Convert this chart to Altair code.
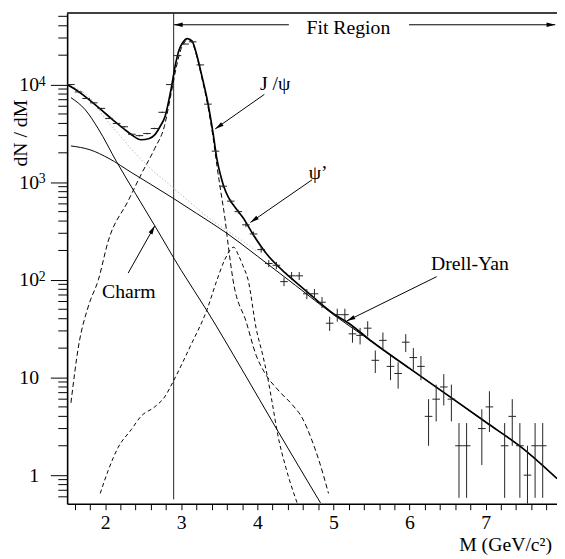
import math
import altair as alt
import pandas as pd

# ---------------- data ----------------
# measured spectrum: bin centres (GeV/c^2) and counts (error = sqrt(N))
BIN_M = [1.55, 1.65, 1.75, 1.85, 1.95, 2.05, 2.15, 2.25, 2.35, 2.45, 2.55, 2.65, 2.75, 2.85,
         2.95, 3.05, 3.15, 3.25, 3.35, 3.45, 3.55, 3.65, 3.75, 3.85, 3.95, 4.05, 4.15, 4.25,
         4.35, 4.45, 4.55, 4.65, 4.75, 4.85, 4.95, 5.05, 5.15, 5.25, 5.35, 5.45, 5.55, 5.65,
         5.75, 5.85, 5.95, 6.05, 6.15, 6.25, 6.35, 6.45, 6.55, 6.65, 6.75, 6.95, 7.05, 7.25,
         7.35, 7.45, 7.55, 7.65, 7.75]
BIN_N = [10000, 8400, 7200, 6500, 5700, 4500, 4000, 3700, 3100, 3000, 3150, 3550, 5200, 10000,
         19800, 26000, 27400, 15900, 6300, 2080, 910, 640, 500, 366, 295, 204, 147, 141,
         96, 110, 110, 72, 72, 59, 36, 44, 44, 28, 27, 32, 15, 24,
         13, 11, 23, 16, 13, 4, 6, 8, 6, 2, 2, 3, 5, 2,
         4, 2, 1, 2, 2]

# total fit
TOTAL_M = [1.50, 1.60, 1.75, 1.95, 2.10, 2.25, 2.35, 2.47, 2.58, 2.65, 2.72, 2.79, 2.86, 2.93,
           2.97, 3.02, 3.08, 3.14, 3.21, 3.27, 3.34, 3.42, 3.47, 3.52, 3.56, 3.62, 3.68, 3.75,
           3.81, 3.94, 4.12, 4.37, 4.60, 4.80, 5.00, 5.20, 5.50, 6.00, 6.50, 7.00, 7.50, 7.94]
TOTAL_V = [10000, 9000, 7400, 5500, 4350, 3500, 3050, 2720, 2800, 3050, 3700, 4800, 8500, 17000,
           22500, 27000, 29600, 28000, 19300, 12300, 7070, 3100, 1700, 1150, 900, 700, 590, 500,
           435, 295, 185, 117, 82, 60, 45, 36, 23.5, 12.4, 6.6, 3.5, 1.85, 0.92]

# Drell-Yan
DY_M = [1.55, 1.80, 2.05, 2.35, 2.60, 2.90, 3.20, 3.60, 4.00, 4.50, 5.00, 5.50, 6.00, 6.50,
        7.00, 7.50, 7.94]
DY_V = [2350, 2150, 1750, 1250, 950, 680, 480, 300, 175, 88, 44, 23.5, 12.4, 6.6,
        3.5, 1.85, 0.92]

# Charm
CHARM_M = [1.55, 1.74, 1.91, 2.15, 2.40, 2.65, 3.00, 3.34, 3.80, 4.25, 4.83]
CHARM_V = [7350, 5500, 3520, 1620, 760, 360, 125, 48, 12, 3.0, 0.52]

# J/psi (dashed)
JPSI_M = [1.55, 1.65, 1.78, 1.91, 2.04, 2.30, 2.47, 2.65, 2.78, 2.86, 2.93, 3.00, 3.05, 3.09,
          3.14, 3.21, 3.27, 3.34, 3.42, 3.47, 3.52, 3.575, 3.62, 3.68, 3.856, 3.985, 4.09,
          4.29, 4.46, 4.59, 4.72, 4.81, 4.935]
JPSI_V = [5.5, 21, 54, 100, 250, 640, 1190, 2210, 3800, 7600, 14500, 23500, 27500, 28800,
          27000, 18600, 11700, 6600, 2800, 1450, 800, 420, 216, 100, 36.6, 16.8, 11.4,
          7.2, 5.25, 3.85, 2.24, 1.41, 0.65]

# psi' (dashed)
PSIP_M = [1.935, 2.04, 2.17, 2.345, 2.47, 2.65, 2.78, 2.90, 3.12, 3.34, 3.47, 3.57, 3.69, 3.75,
          3.81, 3.878, 3.986, 4.072, 4.137, 4.20, 4.267, 4.374, 4.526]
PSIP_V = [0.65, 1.12, 1.92, 2.94, 4.0, 5.0, 6.3, 9.3, 21, 50, 100, 160, 216, 180,
          140, 100, 31.3, 16.8, 9.8, 5.25, 2.62, 1.2, 0.51]

# background sum (faint dotted)
SUM_M = [1.55, 1.80, 2.00, 2.20, 2.40, 2.60, 2.80, 3.00, 3.20, 3.40, 3.60, 3.80, 4.00]
SUM_V = [9700, 7300, 4500, 2950, 1960, 1370, 1010, 745, 548, 408, 320, 252, 195]

# axis ticks
X_TICKS = [1.6, 1.8, 2.0, 2.2, 2.4, 2.6, 2.8, 3.0, 3.2, 3.4, 3.6, 3.8, 4.0, 4.2, 4.4, 4.6,
           4.8, 5.0, 5.2, 5.4, 5.6, 5.8, 6.0, 6.2, 6.4, 6.6, 6.8, 7.0, 7.2, 7.4, 7.6, 7.8]
Y_MAJOR = [1, 10, 100, 1000, 10000]
Y_MINOR = [0.6, 0.7, 0.8, 0.9, 2, 3, 4, 5, 6, 7, 8, 9, 20, 30, 40, 50, 60, 70, 80, 90,
           200, 300, 400, 500, 600, 700, 800, 900, 2000, 3000, 4000, 5000, 6000, 7000, 8000,
           9000, 20000, 30000, 40000, 50000]
EXP_V = [100, 1000, 10000]
EXP_T = ["2", "3", "4"]

# annotations (data coordinates)
FIT_LINE_M = 2.9
ARROWS = [  # m0, v0, m1, v1
    (4.414, 40970, 2.905, 40970),
    (5.993, 40970, 7.915, 40970),
    (4.092, 7934, 3.446, 3516),
    (4.720, 1060, 3.908, 387),
    (6.356, 107.8, 5.174, 37.9),
    (2.302, 117.4, 2.652, 358),
]
LABEL_T = ["Fit Region", "J /\u03c8", "\u03c8\u2019", "Drell-Yan", "Charm"]
LABEL_M = [5.196, 4.233, 4.80, 6.793, 2.311]
LABEL_V = [33240, 8740, 1080, 125.9, 65.7]

# ---------------- chart ----------------
XMIN, XMAX = 1.5, 7.938
YMIN, YMAX = 0.509, 54150.0
W, H = 497, 498
FONT = "Liberation Serif, Times New Roman, DejaVu Serif, serif"

xs = alt.Scale(domain=[XMIN, XMAX], nice=False, zero=False)
ys = alt.Scale(type="log", domain=[YMIN, YMAX], nice=False)

xaxis = alt.Axis(values=X_TICKS, tickSize=6, tickWidth=1, tickColor="black",
                 domainColor="black", domainWidth=1.6,
                 labelExpr="abs(datum.value - round(datum.value)) < 0.001 ? format(round(datum.value), 'd') : ''",
                 labelFont=FONT, labelFontSize=20, labelColor="black", labelPadding=3,
                 labelFlush=False, labelOverlap=False, grid=False, title=None)
yaxis = alt.Axis(values=Y_MAJOR, tickSize=17, tickWidth=1, tickColor="black",
                 domainColor="black", domainWidth=1.6,
                 labelExpr="datum.value >= 10 ? '10' : '1'",
                 labelFont=FONT, labelFontSize=20, labelColor="black", labelPadding=12,
                 labelFlush=False, labelOverlap=False, grid=False, title=None)


def X(f="m"):
    return alt.X(f"{f}:Q", scale=xs, axis=xaxis)


def Y(f="v"):
    return alt.Y(f"{f}:Q", scale=ys, axis=yaxis)


layers = []

# minor y ticks
layers.append(alt.Chart(pd.DataFrame({"v": Y_MINOR})).mark_rule(color="black", strokeWidth=1)
              .encode(x=alt.value(-9), x2=alt.value(0), y=Y()))
# exponents of the y labels
layers.append(alt.Chart(pd.DataFrame({"v": EXP_V, "t": EXP_T}))
              .mark_text(align="left", baseline="alphabetic", font=FONT, fontSize=14, dy=1, color="black")
              .encode(x=alt.value(-28.7), y=Y(), text="t:N"))

# top frame
layers.append(alt.Chart(pd.DataFrame({"v": [YMAX]})).mark_rule(color="black", strokeWidth=1.5)
              .encode(y=Y()))

# fit-region vertical line
layers.append(alt.Chart(pd.DataFrame({"m": [FIT_LINE_M], "v": [0.565], "v2": [YMAX]}))
              .mark_rule(color="#222", strokeWidth=1)
              .encode(x=X(), y=Y(), y2=alt.Y2("v2:Q")))


def curve(mm, vv, **kw):
    return (alt.Chart(pd.DataFrame({"m": mm, "v": vv}))
            .mark_line(interpolate="monotone", clip=True, **kw)
            .encode(x=X(), y=Y()))


layers.append(curve(SUM_M, SUM_V, color="#bbbbbb", strokeWidth=1, strokeDash=[1.5, 2]))
layers.append(curve(CHARM_M, CHARM_V, color="black", strokeWidth=1))
layers.append(curve(DY_M, DY_V, color="black", strokeWidth=1))
layers.append(curve(JPSI_M, JPSI_V, color="black", strokeWidth=1, strokeDash=[5, 3]))
layers.append(curve(PSIP_M, PSIP_V, color="black", strokeWidth=1, strokeDash=[4, 3]))
layers.append(curve(TOTAL_M, TOTAL_V, color="black", strokeWidth=1.7))

# data crosses
pts = pd.DataFrame({"m": BIN_M, "v": BIN_N})
pts["err"] = pts["v"] ** 0.5
pts["lo"] = (pts["v"] - pts["err"]).clip(lower=YMIN)
pts["hi"] = pts["v"] + pts["err"]
pts["xl"] = pts["m"] - 0.05
pts["xr"] = pts["m"] + 0.05
layers.append(alt.Chart(pts).mark_rule(color="#222", strokeWidth=1, clip=True)
              .encode(x=X(), y=Y("lo"), y2=alt.Y2("hi:Q")))
layers.append(alt.Chart(pts).mark_rule(color="#222", strokeWidth=1, clip=True)
              .encode(x=X("xl"), x2=alt.X2("xr:Q"), y=Y()))

# arrows
PXX = W / (XMAX - XMIN)
PXY = H / (math.log10(YMAX) - math.log10(YMIN))
arr = pd.DataFrame(ARROWS, columns=["m", "v", "m2", "v2"])
arr["ang"] = [
    (math.degrees(math.atan2((r.m2 - r.m) * PXX, (math.log10(r.v2) - math.log10(r.v)) * PXY)) + 360) % 360
    for r in arr.itertuples()
]
arr["hm"] = arr["m2"]
arr["hv"] = arr["v2"]
layers.append(alt.Chart(arr).mark_rule(color="black", strokeWidth=1)
              .encode(x=X(), y=Y(), x2=alt.X2("m2:Q"), y2=alt.Y2("v2:Q")))
layers.append(alt.Chart(arr).mark_point(shape="M0,0L0.55,2.2L-0.55,2.2Z", filled=True, size=64,
                                        color="black", opacity=1, strokeWidth=0)
              .encode(x=X("hm"), y=Y("hv"), angle=alt.Angle("ang:Q", scale=None)))

# annotation labels
lab = pd.DataFrame({"m": LABEL_M, "v": LABEL_V, "t": LABEL_T})
layers.append(alt.Chart(lab).mark_text(align="center", baseline="alphabetic", font=FONT,
                                       fontSize=20, color="black")
              .encode(x=X(), y=Y(), text="t:N"))

# axis titles
layers.append(alt.Chart(pd.DataFrame({"t": ["dN / dM"]}))
              .mark_text(align="center", baseline="middle", angle=270, font=FONT, fontSize=20, color="black")
              .encode(x=alt.value(-47), y=alt.value(122), text="t:N"))
layers.append(alt.Chart(pd.DataFrame({"t": ["M (GeV/c\u00b2)"]}))
              .mark_text(align="right", baseline="alphabetic", font=FONT, fontSize=20, color="black")
              .encode(x=alt.value(492), y=alt.value(546), text="t:N"))

chart = (alt.layer(*layers)
         .properties(width=W, height=H,
                     padding={"left": 60, "top": 1, "right": 0, "bottom": 52},
                     autosize=alt.AutoSizeParams(type="none"),
                     background="white")
         .configure_view(stroke=None))

chart.save("out.html", embed_options={"renderer": "svg", "actions": False})
